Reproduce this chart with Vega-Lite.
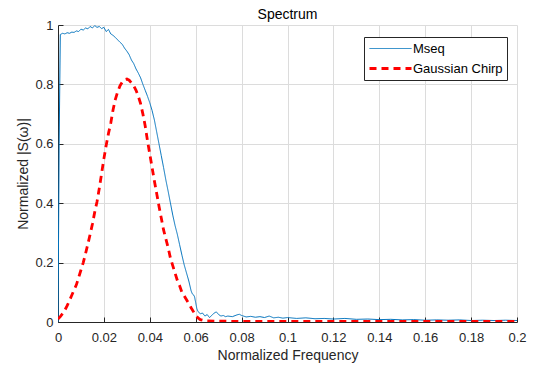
{
  "$schema": "https://vega.github.io/schema/vega-lite/v6.json",
  "width": 459,
  "height": 297,
  "autosize": "none",
  "padding": {"left": 58, "top": 25, "right": 22, "bottom": 47},
  "background": "white",
  "config": {
    "font": "Liberation Sans",
    "view": {"stroke": null},
    "axis": {
      "domainColor": "#262626",
      "domainWidth": 1,
      "tickColor": "#262626",
      "tickSize": -5,
      "labelFontSize": 13,
      "labelColor": "#262626",
      "titleFontSize": 14,
      "titleFontWeight": "normal",
      "titleColor": "#262626",
      "gridColor": "#dcdcdc",
      "gridWidth": 1
    }
  },
  "title": {"text": "Spectrum", "fontSize": 14, "fontWeight": "normal", "color": "#000000", "offset": -3},
  "data": {"values": [
    {"s": "Mseq", "f": 0, "v": 0},
    {"s": "Mseq", "f": 0.0005, "v": 0.6},
    {"s": "Mseq", "f": 0.001, "v": 0.968},
    {"s": "Mseq", "f": 0.002, "v": 0.972},
    {"s": "Mseq", "f": 0.003, "v": 0.970},
    {"s": "Mseq", "f": 0.004, "v": 0.974},
    {"s": "Mseq", "f": 0.005, "v": 0.972},
    {"s": "Mseq", "f": 0.006, "v": 0.976},
    {"s": "Mseq", "f": 0.007, "v": 0.975},
    {"s": "Mseq", "f": 0.008, "v": 0.980},
    {"s": "Mseq", "f": 0.009, "v": 0.978},
    {"s": "Mseq", "f": 0.010, "v": 0.986},
    {"s": "Mseq", "f": 0.011, "v": 0.983},
    {"s": "Mseq", "f": 0.012, "v": 0.990},
    {"s": "Mseq", "f": 0.013, "v": 0.987},
    {"s": "Mseq", "f": 0.014, "v": 0.995},
    {"s": "Mseq", "f": 0.015, "v": 0.990},
    {"s": "Mseq", "f": 0.016, "v": 0.998},
    {"s": "Mseq", "f": 0.017, "v": 0.992},
    {"s": "Mseq", "f": 0.018, "v": 0.995},
    {"s": "Mseq", "f": 0.019, "v": 0.988},
    {"s": "Mseq", "f": 0.020, "v": 0.992},
    {"s": "Mseq", "f": 0.021, "v": 0.978},
    {"s": "Mseq", "f": 0.022, "v": 0.985},
    {"s": "Mseq", "f": 0.023, "v": 0.970},
    {"s": "Mseq", "f": 0.024, "v": 0.965},
    {"s": "Mseq", "f": 0.025, "v": 0.958},
    {"s": "Mseq", "f": 0.026, "v": 0.950},
    {"s": "Mseq", "f": 0.027, "v": 0.942},
    {"s": "Mseq", "f": 0.028, "v": 0.935},
    {"s": "Mseq", "f": 0.029, "v": 0.922},
    {"s": "Mseq", "f": 0.030, "v": 0.912},
    {"s": "Mseq", "f": 0.031, "v": 0.900},
    {"s": "Mseq", "f": 0.032, "v": 0.882},
    {"s": "Mseq", "f": 0.033, "v": 0.870},
    {"s": "Mseq", "f": 0.034, "v": 0.852},
    {"s": "Mseq", "f": 0.035, "v": 0.838},
    {"s": "Mseq", "f": 0.036, "v": 0.822},
    {"s": "Mseq", "f": 0.037, "v": 0.800},
    {"s": "Mseq", "f": 0.038, "v": 0.780},
    {"s": "Mseq", "f": 0.039, "v": 0.760},
    {"s": "Mseq", "f": 0.040, "v": 0.738},
    {"s": "Mseq", "f": 0.041, "v": 0.712},
    {"s": "Mseq", "f": 0.042, "v": 0.680},
    {"s": "Mseq", "f": 0.043, "v": 0.640},
    {"s": "Mseq", "f": 0.044, "v": 0.600},
    {"s": "Mseq", "f": 0.045, "v": 0.560},
    {"s": "Mseq", "f": 0.046, "v": 0.520},
    {"s": "Mseq", "f": 0.047, "v": 0.478},
    {"s": "Mseq", "f": 0.048, "v": 0.440},
    {"s": "Mseq", "f": 0.049, "v": 0.400},
    {"s": "Mseq", "f": 0.050, "v": 0.360},
    {"s": "Mseq", "f": 0.051, "v": 0.325},
    {"s": "Mseq", "f": 0.052, "v": 0.295},
    {"s": "Mseq", "f": 0.053, "v": 0.260},
    {"s": "Mseq", "f": 0.054, "v": 0.225},
    {"s": "Mseq", "f": 0.055, "v": 0.192},
    {"s": "Mseq", "f": 0.056, "v": 0.165},
    {"s": "Mseq", "f": 0.057, "v": 0.138},
    {"s": "Mseq", "f": 0.058, "v": 0.105},
    {"s": "Mseq", "f": 0.0585, "v": 0.095},
    {"s": "Mseq", "f": 0.059, "v": 0.092},
    {"s": "Mseq", "f": 0.0595, "v": 0.085},
    {"s": "Mseq", "f": 0.060, "v": 0.065},
    {"s": "Mseq", "f": 0.0605, "v": 0.045},
    {"s": "Mseq", "f": 0.061, "v": 0.035},
    {"s": "Mseq", "f": 0.062, "v": 0.028},
    {"s": "Mseq", "f": 0.063, "v": 0.030},
    {"s": "Mseq", "f": 0.064, "v": 0.020},
    {"s": "Mseq", "f": 0.065, "v": 0.025},
    {"s": "Mseq", "f": 0.066, "v": 0.015},
    {"s": "Mseq", "f": 0.067, "v": 0.022},
    {"s": "Mseq", "f": 0.068, "v": 0.030},
    {"s": "Mseq", "f": 0.069, "v": 0.034},
    {"s": "Mseq", "f": 0.070, "v": 0.025},
    {"s": "Mseq", "f": 0.071, "v": 0.020},
    {"s": "Mseq", "f": 0.072, "v": 0.022},
    {"s": "Mseq", "f": 0.073, "v": 0.018},
    {"s": "Mseq", "f": 0.074, "v": 0.020},
    {"s": "Mseq", "f": 0.076, "v": 0.018},
    {"s": "Mseq", "f": 0.078, "v": 0.024},
    {"s": "Mseq", "f": 0.079, "v": 0.026},
    {"s": "Mseq", "f": 0.080, "v": 0.022},
    {"s": "Mseq", "f": 0.082, "v": 0.017},
    {"s": "Mseq", "f": 0.084, "v": 0.019},
    {"s": "Mseq", "f": 0.086, "v": 0.016},
    {"s": "Mseq", "f": 0.088, "v": 0.018},
    {"s": "Mseq", "f": 0.090, "v": 0.015},
    {"s": "Mseq", "f": 0.092, "v": 0.020},
    {"s": "Mseq", "f": 0.094, "v": 0.014},
    {"s": "Mseq", "f": 0.096, "v": 0.016},
    {"s": "Mseq", "f": 0.098, "v": 0.013},
    {"s": "Mseq", "f": 0.100, "v": 0.015},
    {"s": "Mseq", "f": 0.104, "v": 0.012},
    {"s": "Mseq", "f": 0.108, "v": 0.014},
    {"s": "Mseq", "f": 0.112, "v": 0.011},
    {"s": "Mseq", "f": 0.116, "v": 0.012},
    {"s": "Mseq", "f": 0.120, "v": 0.010},
    {"s": "Mseq", "f": 0.125, "v": 0.012},
    {"s": "Mseq", "f": 0.130, "v": 0.009},
    {"s": "Mseq", "f": 0.135, "v": 0.010},
    {"s": "Mseq", "f": 0.140, "v": 0.008},
    {"s": "Mseq", "f": 0.145, "v": 0.009},
    {"s": "Mseq", "f": 0.150, "v": 0.007},
    {"s": "Mseq", "f": 0.155, "v": 0.008},
    {"s": "Mseq", "f": 0.160, "v": 0.006},
    {"s": "Mseq", "f": 0.165, "v": 0.007},
    {"s": "Mseq", "f": 0.170, "v": 0.006},
    {"s": "Mseq", "f": 0.175, "v": 0.007},
    {"s": "Mseq", "f": 0.180, "v": 0.005},
    {"s": "Mseq", "f": 0.185, "v": 0.006},
    {"s": "Mseq", "f": 0.190, "v": 0.005},
    {"s": "Mseq", "f": 0.195, "v": 0.006},
    {"s": "Mseq", "f": 0.200, "v": 0.005},
    {"s": "Gaussian Chirp", "f": 0, "v": 0.01},
    {"s": "Gaussian Chirp", "f": 0.001, "v": 0.018},
    {"s": "Gaussian Chirp", "f": 0.002, "v": 0.028},
    {"s": "Gaussian Chirp", "f": 0.003, "v": 0.04},
    {"s": "Gaussian Chirp", "f": 0.004, "v": 0.055},
    {"s": "Gaussian Chirp", "f": 0.005, "v": 0.072},
    {"s": "Gaussian Chirp", "f": 0.006, "v": 0.09},
    {"s": "Gaussian Chirp", "f": 0.007, "v": 0.108},
    {"s": "Gaussian Chirp", "f": 0.008, "v": 0.125},
    {"s": "Gaussian Chirp", "f": 0.009, "v": 0.15},
    {"s": "Gaussian Chirp", "f": 0.010, "v": 0.175},
    {"s": "Gaussian Chirp", "f": 0.011, "v": 0.2},
    {"s": "Gaussian Chirp", "f": 0.012, "v": 0.23},
    {"s": "Gaussian Chirp", "f": 0.013, "v": 0.262},
    {"s": "Gaussian Chirp", "f": 0.014, "v": 0.295},
    {"s": "Gaussian Chirp", "f": 0.015, "v": 0.33},
    {"s": "Gaussian Chirp", "f": 0.016, "v": 0.37},
    {"s": "Gaussian Chirp", "f": 0.017, "v": 0.405},
    {"s": "Gaussian Chirp", "f": 0.018, "v": 0.45},
    {"s": "Gaussian Chirp", "f": 0.019, "v": 0.5},
    {"s": "Gaussian Chirp", "f": 0.020, "v": 0.55},
    {"s": "Gaussian Chirp", "f": 0.021, "v": 0.595},
    {"s": "Gaussian Chirp", "f": 0.022, "v": 0.635},
    {"s": "Gaussian Chirp", "f": 0.023, "v": 0.67},
    {"s": "Gaussian Chirp", "f": 0.024, "v": 0.715},
    {"s": "Gaussian Chirp", "f": 0.025, "v": 0.75},
    {"s": "Gaussian Chirp", "f": 0.026, "v": 0.775},
    {"s": "Gaussian Chirp", "f": 0.027, "v": 0.795},
    {"s": "Gaussian Chirp", "f": 0.028, "v": 0.808},
    {"s": "Gaussian Chirp", "f": 0.029, "v": 0.816},
    {"s": "Gaussian Chirp", "f": 0.030, "v": 0.818},
    {"s": "Gaussian Chirp", "f": 0.031, "v": 0.814},
    {"s": "Gaussian Chirp", "f": 0.032, "v": 0.805},
    {"s": "Gaussian Chirp", "f": 0.033, "v": 0.795},
    {"s": "Gaussian Chirp", "f": 0.034, "v": 0.78},
    {"s": "Gaussian Chirp", "f": 0.035, "v": 0.76},
    {"s": "Gaussian Chirp", "f": 0.036, "v": 0.735},
    {"s": "Gaussian Chirp", "f": 0.037, "v": 0.70},
    {"s": "Gaussian Chirp", "f": 0.038, "v": 0.66},
    {"s": "Gaussian Chirp", "f": 0.039, "v": 0.61},
    {"s": "Gaussian Chirp", "f": 0.040, "v": 0.565},
    {"s": "Gaussian Chirp", "f": 0.041, "v": 0.52},
    {"s": "Gaussian Chirp", "f": 0.042, "v": 0.475},
    {"s": "Gaussian Chirp", "f": 0.043, "v": 0.433},
    {"s": "Gaussian Chirp", "f": 0.044, "v": 0.39},
    {"s": "Gaussian Chirp", "f": 0.045, "v": 0.35},
    {"s": "Gaussian Chirp", "f": 0.046, "v": 0.31},
    {"s": "Gaussian Chirp", "f": 0.047, "v": 0.28},
    {"s": "Gaussian Chirp", "f": 0.048, "v": 0.25},
    {"s": "Gaussian Chirp", "f": 0.049, "v": 0.215},
    {"s": "Gaussian Chirp", "f": 0.050, "v": 0.19},
    {"s": "Gaussian Chirp", "f": 0.051, "v": 0.165},
    {"s": "Gaussian Chirp", "f": 0.052, "v": 0.14},
    {"s": "Gaussian Chirp", "f": 0.053, "v": 0.122},
    {"s": "Gaussian Chirp", "f": 0.054, "v": 0.1},
    {"s": "Gaussian Chirp", "f": 0.055, "v": 0.088},
    {"s": "Gaussian Chirp", "f": 0.056, "v": 0.075},
    {"s": "Gaussian Chirp", "f": 0.057, "v": 0.062},
    {"s": "Gaussian Chirp", "f": 0.058, "v": 0.048},
    {"s": "Gaussian Chirp", "f": 0.059, "v": 0.035},
    {"s": "Gaussian Chirp", "f": 0.060, "v": 0.022},
    {"s": "Gaussian Chirp", "f": 0.061, "v": 0.014},
    {"s": "Gaussian Chirp", "f": 0.062, "v": 0.008},
    {"s": "Gaussian Chirp", "f": 0.064, "v": 0.004},
    {"s": "Gaussian Chirp", "f": 0.068, "v": 0.003},
    {"s": "Gaussian Chirp", "f": 0.08, "v": 0.002},
    {"s": "Gaussian Chirp", "f": 0.1, "v": 0.002},
    {"s": "Gaussian Chirp", "f": 0.2, "v": 0.002}
  ]},
  "mark": {"type": "line", "clip": true},
  "encoding": {
    "x": {
      "field": "f", "type": "quantitative",
      "scale": {"domain": [0, 0.2], "nice": false, "zero": false},
      "axis": {"title": "Normalized Frequency", "values": [0, 0.02, 0.04, 0.06, 0.08, 0.1, 0.12, 0.14, 0.16, 0.18, 0.2], "format": "~g", "labelPadding": 14, "titlePadding": 4, "labelFlush": false}
    },
    "y": {
      "field": "v", "type": "quantitative",
      "scale": {"domain": [0, 1], "nice": false},
      "axis": {"title": "Normalized |S(ω)|", "values": [0, 0.2, 0.4, 0.6, 0.8, 1], "format": "~g", "labelPadding": 10, "titlePadding": 4, "labelFlush": false}
    },
    "color": {
      "field": "s", "type": "nominal",
      "scale": {"domain": ["Mseq", "Gaussian Chirp"], "range": ["#0072BD", "#FF0000"]},
      "legend": {
        "title": null, "orient": "none", "legendX": 306, "legendY": 12,
        "strokeColor": "#262626", "fillColor": "white", "padding": 4,
        "symbolType": "M-1,0H5", "symbolSize": 196, "labelFontSize": 13, "labelColor": "#000000",
        "labelOffset": 28, "rowPadding": 4, "labelLimit": 200
      }
    },
    "strokeDash": {
      "field": "s", "type": "nominal",
      "scale": {"domain": ["Mseq", "Gaussian Chirp"], "range": [[1, 0], [7, 5]]},
      "legend": null
    },
    "strokeWidth": {
      "field": "s", "type": "nominal",
      "scale": {"domain": ["Mseq", "Gaussian Chirp"], "range": [1, 2.8]},
      "legend": null
    }
  }
}
